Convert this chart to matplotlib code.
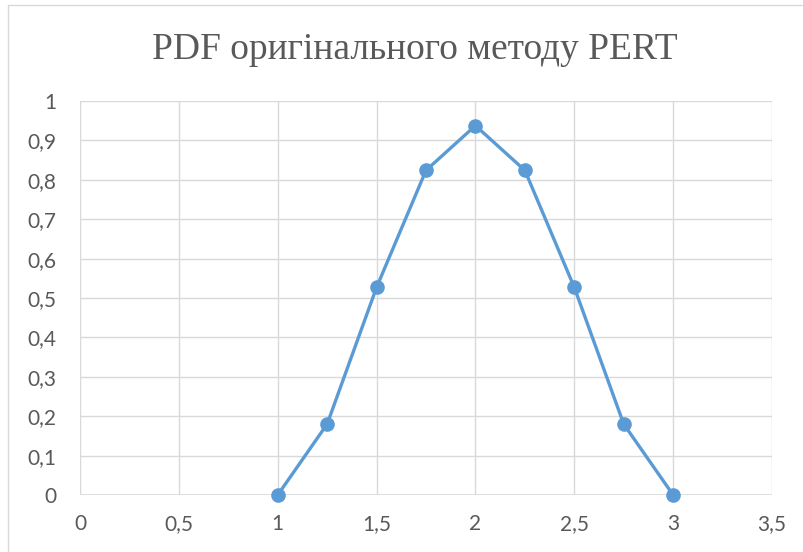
import matplotlib.pyplot as plt
from matplotlib.patches import Rectangle

# PERT pdf points
x_vals = [1, 1.25, 1.5, 1.75, 2, 2.25, 2.5, 2.75, 3]
y_vals = [0, 0.18, 0.527, 0.824, 0.9375, 0.824, 0.527, 0.18, 0]

x_ticks = [0, 0.5, 1, 1.5, 2, 2.5, 3, 3.5]
y_ticks = [0, 0.1, 0.2, 0.3, 0.4, 0.5, 0.6, 0.7, 0.8, 0.9, 1]

title = "PDF оригінального методу PERT"

text_col = '#595959'
grid_col = '#D9D9D9'
line_col = '#5B9BD5'

fig = plt.figure(figsize=(8.04, 5.52), dpi=100)

# chart frame (Excel style, partly cut off at right/bottom)
fig.patches.append(Rectangle((8 / 804, -0.1), 2, 1 - 5 / 552 + 0.1,
                             transform=fig.transFigure, fill=False,
                             edgecolor=grid_col, linewidth=1))

ax = fig.add_axes([80 / 804, 57 / 552, 692 / 804, 394 / 552])
ax.plot(x_vals, y_vals, color=line_col, linewidth=2.4, marker='o',
        markersize=9.5, zorder=3, clip_on=False)

ax.set_xlim(0, 3.5)
ax.set_ylim(0, 1)
ax.set_xticks(x_ticks)
ax.set_yticks(y_ticks)

def fmt(v):
    return ('%g' % v).replace('.', ',')

ax.set_xticklabels([fmt(v) for v in x_ticks])
ax.set_yticklabels([fmt(v) for v in y_ticks])

ax.grid(True, color=grid_col, linewidth=1)
ax.set_axisbelow(True)
for s in ax.spines.values():
    s.set_visible(False)
ax.axhline(0, color=grid_col, linewidth=1.2, zorder=2)
ax.tick_params(length=0, labelsize=15, labelcolor=text_col)
ax.tick_params(axis='y', pad=17)
ax.tick_params(axis='x', pad=14)
for lab in ax.get_xticklabels() + ax.get_yticklabels():
    lab.set_fontfamily('Lato')

fig.text(415 / 804, 1 - 50 / 552, title, ha='center', va='center',
         fontsize=27, color=text_col, family='Liberation Serif')

fig.savefig('out.png', dpi=100)
